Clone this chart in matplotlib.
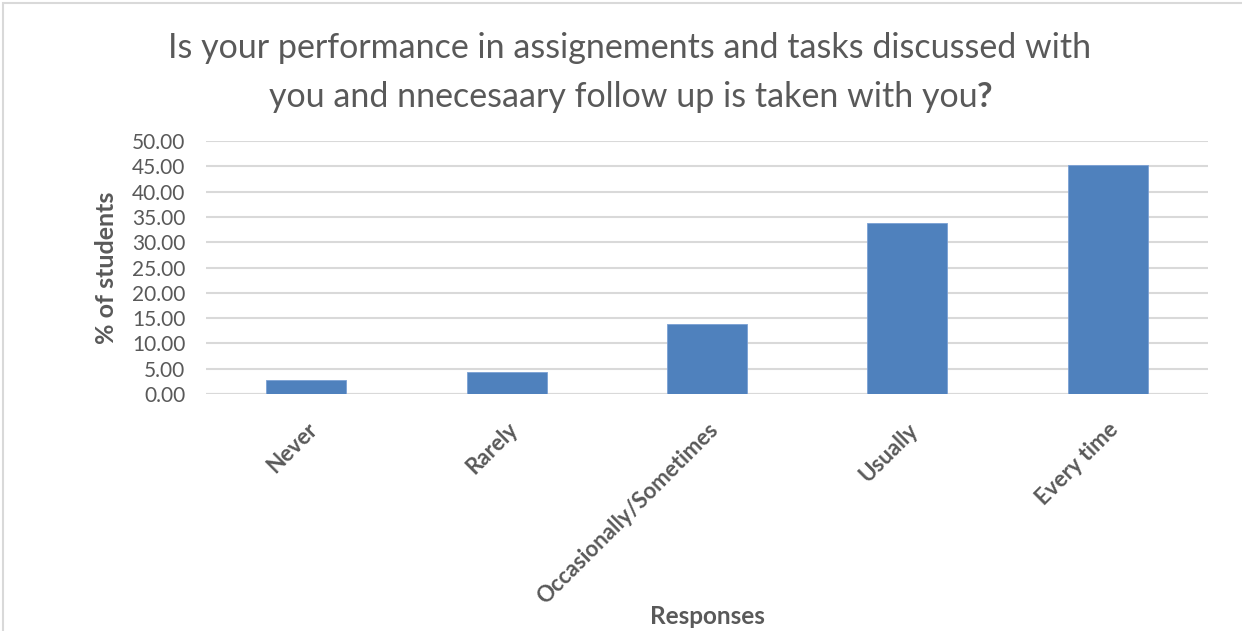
import matplotlib
matplotlib.use("Agg")
import matplotlib.pyplot as plt
from matplotlib.patches import Rectangle

categories = ["Never", "Rarely", "Occasionally/Sometimes", "Usually", "Every time"]
values = [2.8, 4.3, 13.8, 33.8, 45.3]
yticks = [0, 5, 10, 15, 20, 25, 30, 35, 40, 45, 50]

plt.rcParams['font.family'] = ['Lato', 'DejaVu Sans']
txt = '#595959'

fig = plt.figure(figsize=(12.42, 6.31), dpi=100)
fig.patch.set_facecolor('white')
fig.add_artist(Rectangle((3/1242, -0.01), 1.5, 1 - 3/631 + 0.01, transform=fig.transFigure,
                         fill=False, edgecolor='#d9d9d9', linewidth=1.5))

ax = fig.add_axes([206/1242, 1 - 394/631, (1208 - 206)/1242, (394 - 141)/631])
x = range(len(categories))
ax.bar(x, values, width=0.4, color='#4f81bd', edgecolor='#7aa0d4', linewidth=0.6, zorder=3)
ax.set_xlim(-0.5, len(categories) - 0.5)
ax.set_ylim(0, 50)
ax.set_yticks(yticks)
ax.set_yticklabels([f"{v:.2f}" for v in yticks], fontsize=15, color=txt)
ax.set_xticks(list(x))
ax.set_xticklabels(categories, rotation=45, ha='right', rotation_mode='anchor',
                   fontsize=16, fontweight='bold', color=txt)
ax.tick_params(axis='y', length=0, pad=15)
ax.tick_params(axis='x', length=0, pad=18)
ax.grid(axis='y', color='#d9d9d9', linewidth=1.5, zorder=0)
for s in ax.spines.values():
    s.set_visible(False)
ax.axhline(0, color='#d9d9d9', linewidth=1.5, zorder=1)

ax.set_ylabel("% of students", fontsize=18, fontweight='bold', color=txt, labelpad=10)
fig.text(707/1242, 1 - 617/631, "Responses", ha='center', va='center',
         fontsize=17.5, fontweight='bold', color=txt)

fig.text(630/1242, 1 - 48/631, "Is your performance in assignements and tasks discussed with",
         ha='center', va='center', fontsize=24.5, color=txt)
t2 = fig.text(623/1242, 1 - 97/631, "you and nnecesaary follow up is taken with you",
              ha='center', va='center', fontsize=24.5, color=txt)
fig.canvas.draw()
ax.annotate("?", xy=(1, 0), xycoords=t2, va='bottom', ha='left',
            fontsize=24.5, fontweight='bold', color=txt)

fig.savefig("out.png", dpi=100)
